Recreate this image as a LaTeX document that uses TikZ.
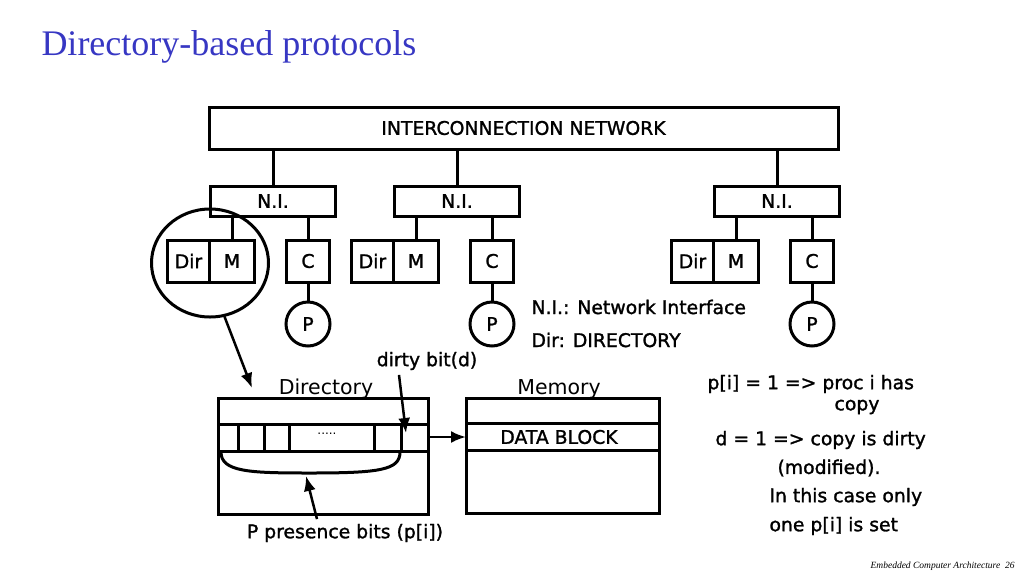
\documentclass[tikz,border=0pt]{standalone}
\usepackage{fontspec}
\setmainfont{Liberation Serif}
\newfontfamily\comicfont[FakeBold=1.4]{DejaVu Sans}
\newfontfamily\comiclight{DejaVu Sans}
\usepackage{tikz}
\usepackage{xcolor}
\usetikzlibrary{positioning, shapes, arrows.meta}
\definecolor{titleblue}{RGB}{55,55,195}

\begin{document}
\begin{tikzpicture}[
    x=1pt, y=-1pt,
    line width=3pt,
    font=\comicfont\fontsize{18.8}{22}\selectfont,
    box/.style={draw, rectangle, inner sep=0pt, outer sep=0pt},
    nibox/.style={box, minimum width=125pt, minimum height=30pt},
    dirbox/.style={box, minimum width=42pt, minimum height=42pt},
    mbox/.style={box, minimum width=45pt, minimum height=42pt},
    cbox/.style={box, minimum width=43pt, minimum height=42pt},
    pnode/.style={draw, circle, minimum size=44pt, inner sep=0pt, outer sep=0pt},
    arr/.style={-{Latex[length=15pt, width=12pt]}, line width=2.5pt},
    txt/.style={anchor=west, inner sep=0pt},
]
    \useasboundingbox (0,0) rectangle (1024,576);

    % title and footer
    \node[txt, font=\rmfamily\fontsize{36}{42}\selectfont, text=titleblue] (title) at (40,47) {Directory-based protocols};
    \node[anchor=east, inner sep=0pt, font=\rmfamily\itshape\fontsize{9.5}{11}\selectfont] (footer) at (1016,566) {Embedded Computer Architecture\ \ 26};

    % network
    \node[box, minimum width=629pt, minimum height=42pt] (net) at (523.5,128) {INTERCONNECTION NETWORK};

    % the three nodes
    \foreach \i/\x in {1/273, 2/457, 3/777} {
        \node[nibox] (ni\i) at (\x,201) {N.I.};
        \node[mbox, below=24pt of ni\i.south, xshift=-41pt] (m\i) {M};
        \node[dirbox, left=0pt of m\i] (dir\i) {Dir};
        \node[cbox, below=24pt of ni\i.south, xshift=35pt] (c\i) {C};
        \node[pnode, below=20pt of c\i] (p\i) {P};
        \draw (ni\i.north |- net.south) -- (ni\i.north);
        \draw (m\i.north |- ni\i.south) -- (m\i.north);
        \draw (c\i.north |- ni\i.south) -- (c\i.north);
        \draw (c\i) -- (p\i);
    }

    % zoom on the first directory
    \node[ellipse, draw, minimum width=117pt, minimum height=108pt, outer sep=0pt] (lens) at (210,263) {};
    \coordinate (lenstip) at (252,388);
    \draw[arr] (lens.-75) -- (lenstip);

    % directory and memory
    \node[font=\comiclight\fontsize{20.5}{24}\selectfont] (dirlbl) at (326,389) {Directory};
    \node[font=\comiclight\fontsize{20.5}{24}\selectfont] (memlbl) at (559,389) {Memory};
    \node[box, minimum width=210pt, minimum height=116pt] (dirtab) at (323,456) {};
    \node[box, minimum width=193pt, minimum height=115pt] (memtab) at (562.5,455.5) {};
    \draw (dirtab.north west) ++(0,26) -- ++(210,0);
    \draw (dirtab.north west) ++(0,53) -- ++(210,0);
    \draw (memtab.north west) ++(0,25) -- ++(193,0);
    \draw (memtab.north west) ++(0,52) -- ++(193,0);
    \foreach \cx in {238, 264, 289, 374, 401}
        \draw (\cx,424) -- (\cx,451);
    \node[font=\comiclight\fontsize{12}{14}\selectfont] (dots) at (327,434) {.....};
    \node (datablk) at (559,437) {DATA BLOCK};
    \draw[arr] (dirtab.east |- datablk) -- (memtab.west |- datablk);

    % dirty bit and presence bits
    \node (dirty) at (427,361) {dirty bit(d)};
    \coordinate (dbit) at (406,433);
    \draw[arr] ([xshift=-28pt]dirty.south) -- (dbit);
    \draw (221,452) .. controls (221,472) and (250,473) .. (310,473)
        .. controls (380,473) and (400,470) .. (400,452);
    \node (pbits) at (345,533) {P presence bits (p[i])};
    \coordinate (brace) at (306,476);
    \draw[arr] ([xshift=-28pt]pbits.north) -- (brace);

    % notes
    \node[txt] (note1) at (530,307) {N.I.: Network Interface};
    \node[txt] (note2) at (530,340) {Dir: DIRECTORY};
    \node[txt] (note3) at (706,384) {p[i] = 1 => proc i has};
    \node (note4) at (857,407) {copy};
    \node[txt] (note5) at (714,440) {d = 1 => copy is dirty};
    \node[txt] (note6) at (776,468) {(modified).};
    \node[txt] (note7) at (768,497) {In this case only};
    \node[txt] (note8) at (768,526) {one p[i] is set};
\end{tikzpicture}
\end{document}
